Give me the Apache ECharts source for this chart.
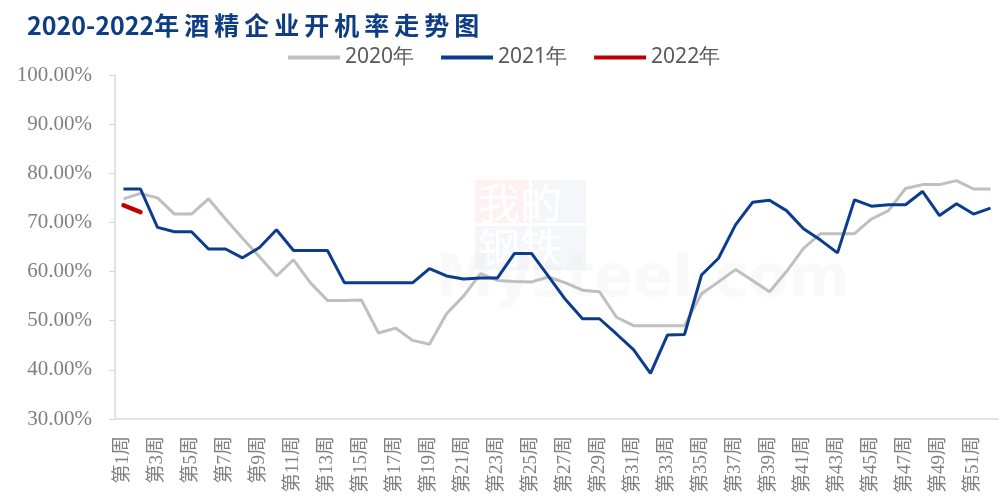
<!DOCTYPE html>
<html>
<head>
<meta charset="utf-8">
<title>酒精企业开机率走势图</title>
<script src="https://cdn.jsdelivr.net/npm/echarts@6/dist/echarts.min.js"></script>
<style>
html, body { margin: 0; padding: 0; background: #fff; }
#main { width: 999px; height: 503px; }
</style>
</head>
<body>
<div id="main"></div>
<script>
// 周次
var weeks = [];
for (var i = 1; i <= 52; i++) weeks.push('第' + i + '周');

var yearNames = ['2020年', '2021年', '2022年'];

// 开机率 (%)
var rate2020 = [
    74.8, 75.9, 75.0, 71.7, 71.7, 74.8, 70.7, 66.8, 63.0, 59.1,
    62.4, 57.7, 54.1, 54.1, 54.2, 47.5, 48.5, 46.0, 45.2, 51.4,
    55.0, 59.6, 58.2, 58.0, 57.9, 58.9, 57.7, 56.2, 55.9, 50.7,
    49.0, 49.0, 49.0, 49.0, 55.5, 57.9, 60.4, 58.2, 55.9, 60.0,
    64.7, 67.7, 67.7, 67.7, 70.7, 72.4, 76.9, 77.7, 77.7, 78.5,
    76.8, 76.8
];
var rate2021 = [
    76.8, 76.8, 69.0, 68.1, 68.1, 64.6, 64.6, 62.8, 64.9, 68.5,
    64.3, 64.3, 64.3, 57.7, 57.7, 57.7, 57.7, 57.7, 60.6, 59.1,
    58.5, 58.7, 58.7, 63.7, 63.7, 59.0, 54.3, 50.4, 50.4, 47.3,
    44.1, 39.3, 47.1, 47.2, 59.3, 62.7, 69.5, 74.1, 74.5, 72.4,
    68.7, 66.4, 63.8, 74.6, 73.3, 73.6, 73.6, 76.3, 71.4, 73.8,
    71.7, 72.9
];
var rate2022 = [73.5, 72.1];

var colors = ['#bfbfbf', '#0b3d8c', '#c00000'];

// 标题字间距（原图字距较宽）
var titleText = '2020-2022年酒精企业开机率走势图';
var spacedTitle = titleText.slice(0, 9) + titleText.slice(9).split('').join('\u2009');

var chart = echarts.init(document.getElementById('main'));
var option = {
    animation: false,
    color: colors,
    title: {
        text: spacedTitle,
        left: 22,
        top: 8,
        textStyle: {
            color: '#0e3d84',
            fontWeight: 'bold',
            fontSize: 25,
            fontFamily: 'Noto Sans CJK SC'
        }
    },
    legend: {
        left: 283,
        top: 42,
        itemWidth: 52,
        itemHeight: 4,
        itemGap: 27,
        icon: 'rect',
        data: yearNames,
        textStyle: { color: '#595959', fontSize: 21, fontFamily: 'Noto Sans' }
    },
    // 水印
    graphic: [
        { type: 'rect', z: -10, shape: { x: 475, y: 180, width: 54, height: 43 }, style: { fill: '#fdf1f1' } },
        { type: 'rect', z: -10, shape: { x: 532, y: 180, width: 54, height: 43 }, style: { fill: '#f5f6fa' } },
        { type: 'rect', z: -10, shape: { x: 475, y: 226, width: 54, height: 44 }, style: { fill: '#f5f6fa' } },
        { type: 'rect', z: -10, shape: { x: 532, y: 226, width: 54, height: 44 }, style: { fill: '#f5f6fa' } },
        { type: 'text', z: -9, left: 478, top: 180, style: { text: '我的', fill: '#ffffff', font: '42px "Noto Sans CJK SC"', lineHeight: 46 } },
        { type: 'text', z: -9, left: 478, top: 225, style: { text: '钢铁', fill: '#ffffff', font: '42px "Noto Sans CJK SC"', lineHeight: 46 } },
        { type: 'text', z: -8, left: 436, top: 252, style: { text: 'Mysteel.com', fill: 'rgba(230,230,230,0.25)', font: 'bold 58px "DejaVu Sans"' } }
    ],
    grid: {
        left: 115,
        top: 75,
        width: 891,
        height: 344,
        containLabel: false
    },
    xAxis: {
        type: 'category',
        data: weeks,
        boundaryGap: true,
        axisLine: { lineStyle: { color: '#d9d9d9', width: 1.5 } },
        axisTick: { inside: true, length: 5, interval: 0, lineStyle: { color: '#d9d9d9' } },
        axisLabel: {
            interval: 1,
            rotate: 90,
            margin: 17,
            color: '#808080',
            fontSize: 19,
            fontFamily: '"Liberation Serif", "Noto Sans CJK SC"'
        },
        splitLine: { show: false }
    },
    yAxis: {
        type: 'value',
        min: 30,
        max: 100,
        interval: 10,
        axisLine: { show: true, lineStyle: { color: '#d9d9d9', width: 1.5 } },
        axisTick: { show: true, length: 6, lineStyle: { color: '#d9d9d9' } },
        axisLabel: {
            margin: 23,
            color: '#808080',
            fontSize: 21,
            fontFamily: 'Liberation Serif',
            formatter: function (v) { return v.toFixed(2) + '%'; }
        },
        splitLine: { show: false }
    },
    series: [
        {
            name: yearNames[0], type: 'line', data: rate2020,
            symbol: 'none', lineStyle: { width: 3, color: colors[0] }
        },
        {
            name: yearNames[1], type: 'line', data: rate2021,
            symbol: 'none', lineStyle: { width: 3, color: colors[1] }
        },
        {
            name: yearNames[2], type: 'line', data: rate2022,
            symbol: 'none', lineStyle: { width: 4.5, color: colors[2], cap: 'round' }
        }
    ]
};
chart.setOption(option);
</script>
</body>
</html>
